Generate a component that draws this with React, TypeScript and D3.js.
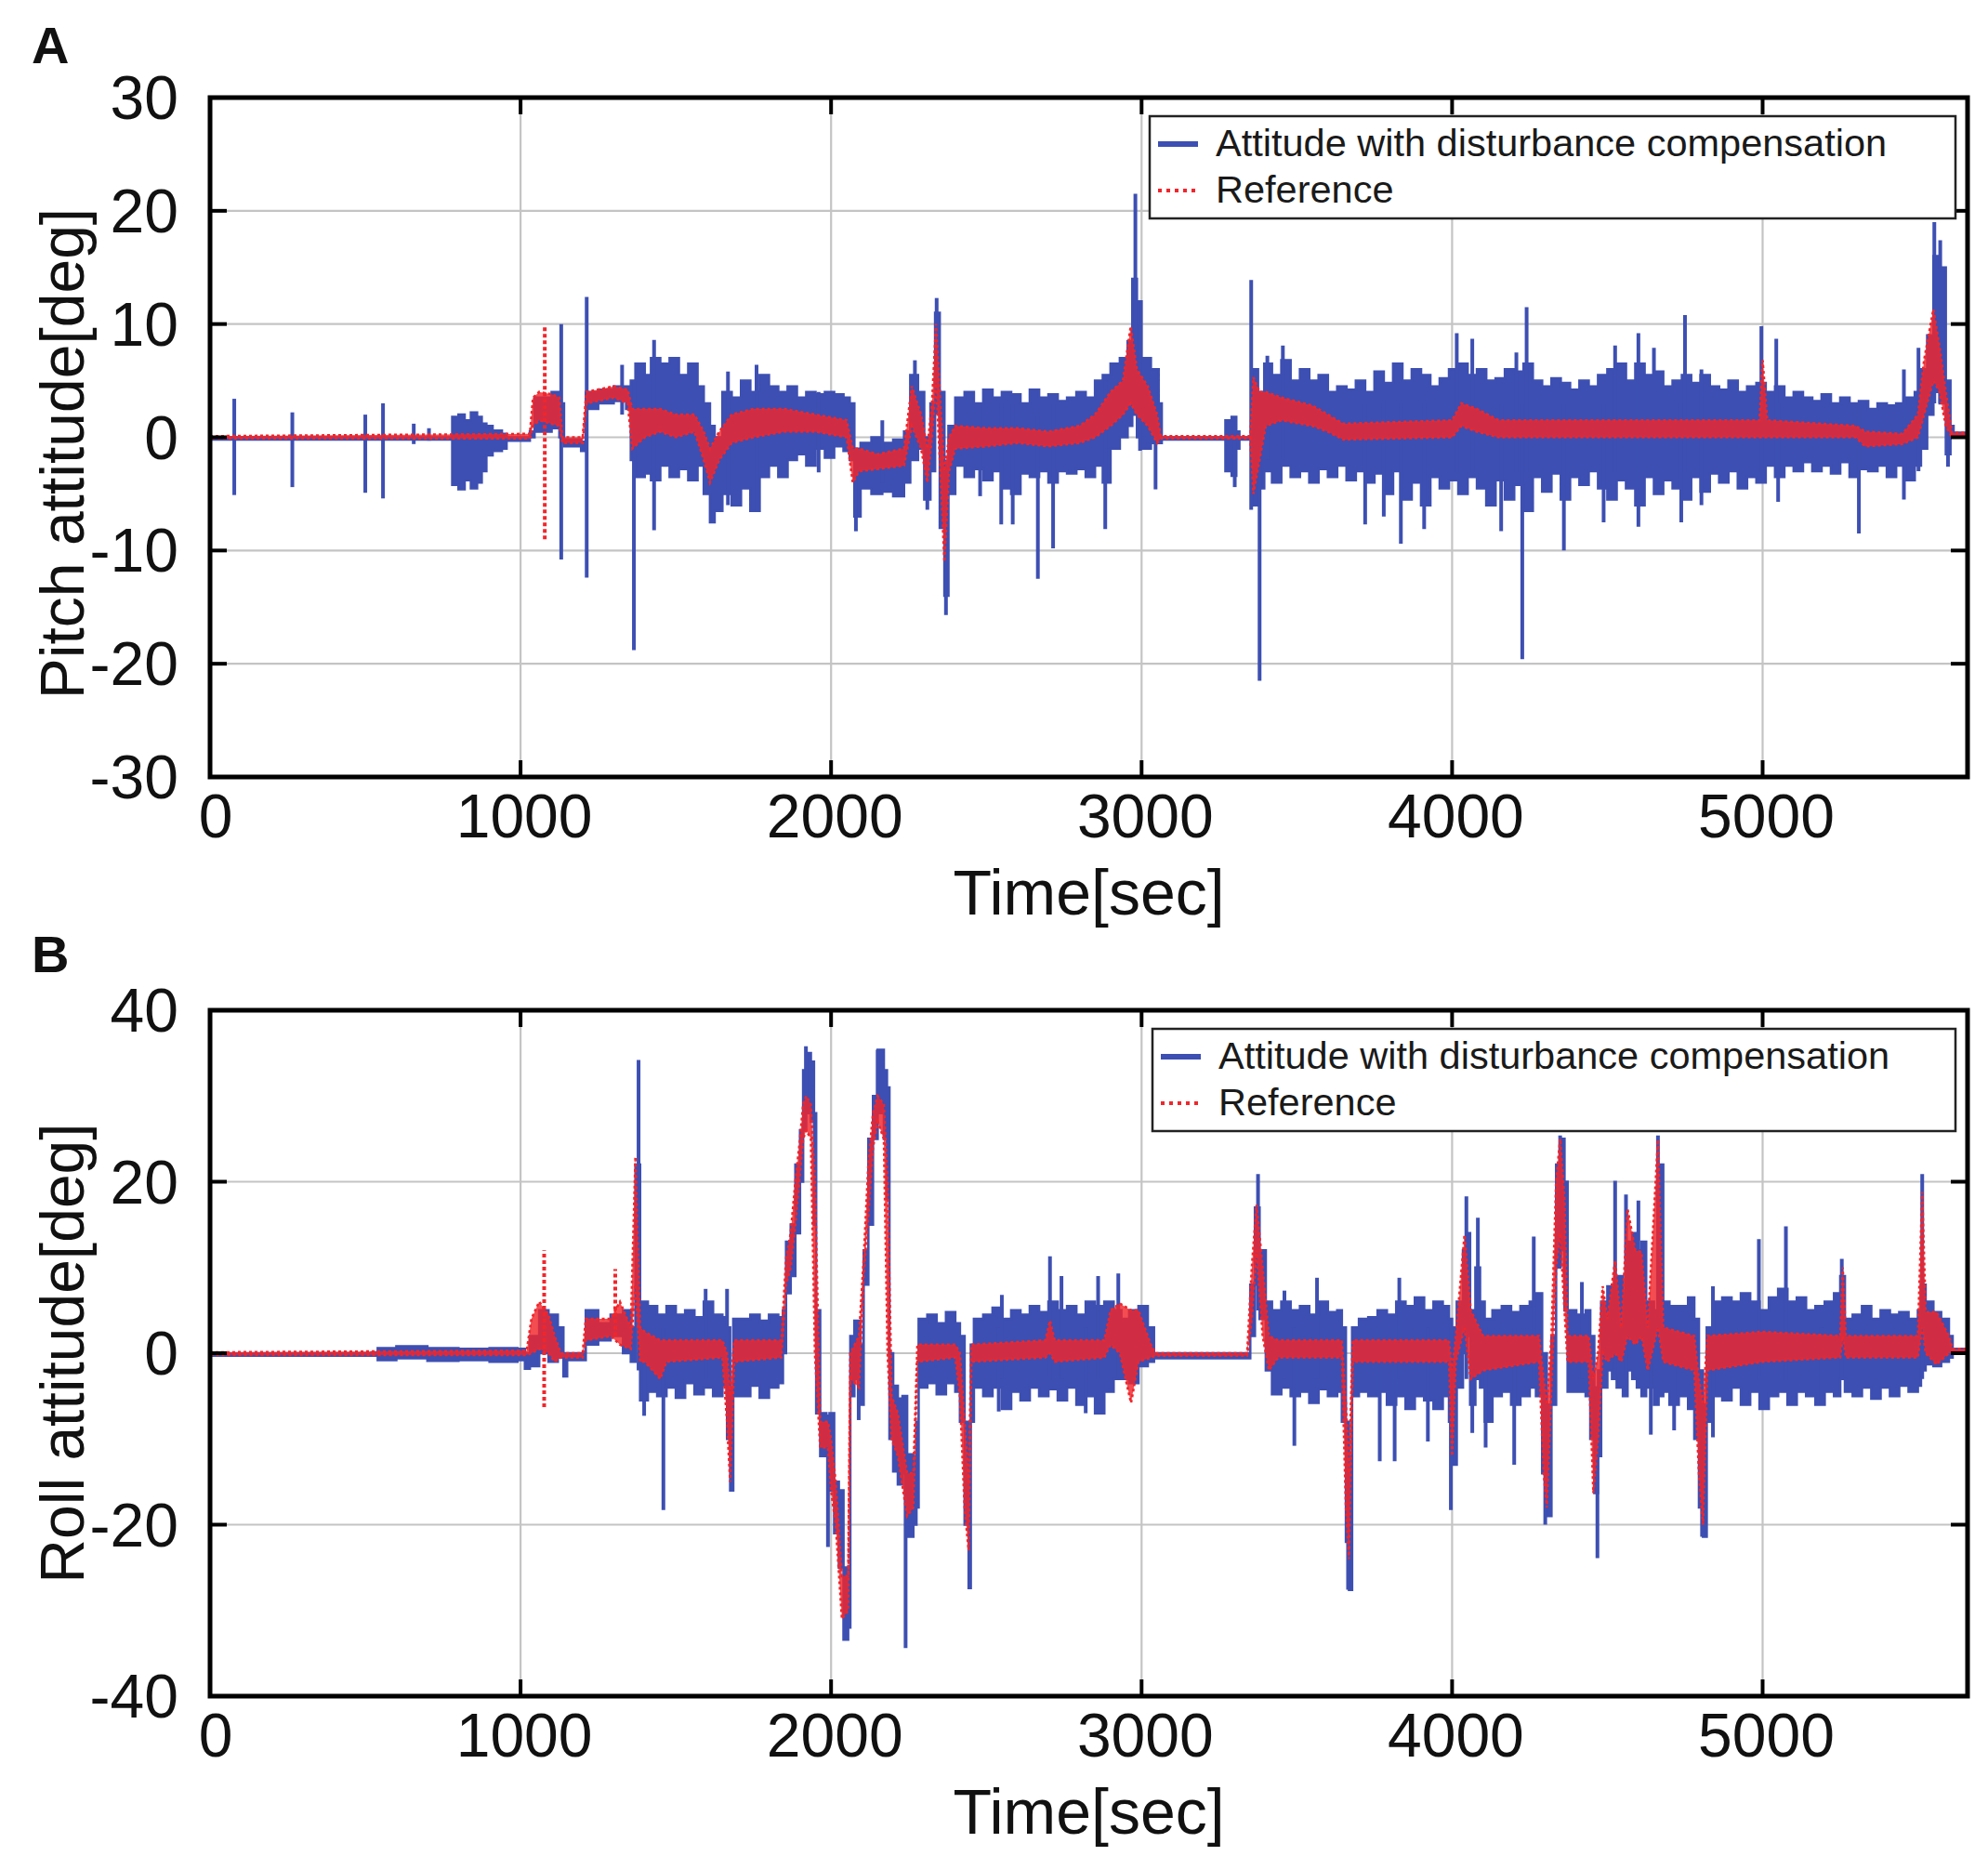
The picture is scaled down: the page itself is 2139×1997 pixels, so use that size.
import React from "react";
import * as d3 from "d3";

type Row = [number, number, number];

const xTicks = [0, 1000, 2000, 3000, 4000, 5000];
const pitchTicks = [-30, -20, -10, 0, 10, 20, 30];
const rollTicks = [-40, -20, 0, 20, 40];
const legendLabels = ["Attitude with disturbance compensation", "Reference"];
const xLabel = "Time[sec]";

// [time, low, high] envelope of the dense blue trace (pitch)
const pitchBlueBand: Row[] = [
  [0, -0.2, 0], [770, -0.2, 0], [780, -4.2, 1.8], [800, -4.6, 2.0], [820, -3.8, 1.5], [840, -4.5, 2.2],
  [860, -4.0, 1.8], [875, -3.0, 1.2], [890, -1.6, 1.0], [910, -1.2, 0.6], [940, -1.0, 0.3], [955, -0.3, 0],
  [1000, -0.3, 0], [1030, 0, 0.5], [1045, 0.5, 3.5], [1100, 0.8, 4], [1125, 0, 3], [1140, -0.8, -0.2],
  [1195, -1.2, -0.4], [1210, 2.5, 4.0], [1250, 3.0, 4.2], [1300, 3.2, 4.5], [1340, 2.5, 4.5], [1355, -2, 5],
  [1370, -3.5, 6.5], [1400, -3.2, 5.5], [1420, -3.8, 7], [1450, -2.5, 6.5], [1480, -3.5, 7], [1510, -2.8, 5.5],
  [1540, -3.8, 6.5], [1570, -2.5, 4.5], [1590, -5, 3], [1610, -7.5, 1], [1625, -6.5, 0], [1650, -5, 4],
  [1680, -6, 3.5], [1710, -4.5, 5], [1740, -6.5, 4], [1770, -3.5, 5.5], [1800, -2.5, 4.5], [1830, -3.5, 4],
  [1860, -2, 4.5], [1890, -1.5, 3.5], [1920, -2.5, 4], [1950, -1, 3.8], [1980, -1.8, 4], [2010, -0.8, 3.8],
  [2040, -1.2, 3.5], [2060, -2, 3], [2075, -7, -1], [2095, -4.5, -0.5], [2130, -5, 0], [2165, -4.8, -0.5],
  [2200, -5.2, -0.2], [2235, -4, 0.5], [2255, -2, 5.5], [2280, -1, 4], [2300, -5.5, 0], [2320, -3, 3],
  [2335, 3, 11], [2350, -8, 4], [2365, -14, -3], [2378, -5, 1], [2400, -2.5, 3.5], [2430, -3.5, 4],
  [2460, -2.8, 3], [2490, -3.8, 4.2], [2520, -3, 3.5], [2550, -4.5, 4], [2580, -5, 3.8], [2610, -3.2, 3],
  [2640, -3.5, 4.2], [2670, -3, 3.5], [2700, -4, 3.8], [2730, -3, 3.2], [2760, -3.2, 3.5], [2790, -2.8, 4],
  [2820, -3.5, 3.5], [2850, -2.5, 5], [2875, -4, 5.5], [2900, -1, 6.5], [2930, 0, 7], [2955, 1, 8.5],
  [2970, 2, 14], [2985, 0, 12], [3000, -1, 7], [3030, -0.5, 6], [3055, -0.5, 3], [3065, -0.2, 0],
  [3260, -0.2, 0], [3270, -3, 1.5], [3290, -3.4, 1.8], [3305, -1, 0.5], [3315, -0.2, 0], [3345, -0.2, 0],
  [3355, -6, 6], [3375, -4.5, 4], [3395, -3, 6.5], [3420, -4, 5.5], [3450, -2.5, 6.8], [3480, -3.5, 5],
  [3510, -3, 6], [3540, -4, 5], [3570, -2.8, 5.5], [3600, -3.5, 4], [3630, -2.5, 4.5], [3660, -3.8, 4.2],
  [3690, -3, 5], [3720, -4, 4], [3750, -3.2, 5.8], [3780, -5, 4.8], [3810, -3, 6.5], [3840, -5.5, 5],
  [3870, -4, 6], [3900, -6, 5.5], [3930, -3.5, 4.5], [3960, -4.5, 5.2], [3990, -3.8, 6], [4020, -5, 6.5],
  [4050, -3.5, 5.5], [4080, -4.5, 6], [4110, -6, 5], [4140, -3.8, 5.2], [4170, -5.5, 6], [4200, -4.2, 5.8],
  [4230, -6.5, 6.5], [4260, -3.5, 5], [4290, -4.8, 4.5], [4320, -3.2, 5.2], [4350, -5.5, 4.8], [4380, -3.5, 4.2],
  [4410, -4.2, 5], [4440, -3, 4.5], [4470, -4.5, 5.5], [4500, -5.5, 6], [4530, -3.8, 6.5], [4560, -4.5, 5],
  [4590, -6, 6.5], [4620, -3.5, 5.5], [4650, -5, 5.8], [4680, -3.8, 4.5], [4710, -4.5, 5], [4740, -5.5, 5.5],
  [4770, -3.5, 4.8], [4800, -4.8, 5.5], [4830, -3.2, 4.5], [4860, -4, 4.2], [4890, -3, 5], [4920, -4.5, 4],
  [4950, -3.5, 4.5], [4980, -4, 4.8], [5010, -2.5, 4], [5040, -3.5, 4.5], [5070, -2.5, 3.5], [5100, -3, 4],
  [5130, -2.2, 3.5], [5160, -3, 3.2], [5190, -2.5, 3.8], [5220, -3.2, 3], [5250, -2.2, 3.5], [5280, -3.5, 3],
  [5310, -2.8, 3.2], [5340, -3, 2.5], [5370, -2.5, 3], [5400, -3.5, 2.8], [5430, -2.5, 3], [5460, -3.8, 3.5],
  [5490, -2.5, 4], [5510, -1, 6], [5530, 2, 9], [5550, 4, 16], [5570, 3, 15], [5590, -1.5, 5],
  [5605, 0, 1], [5615, 0, 0.4], [5660, 0, 0.4],
];

// [time, low, high] isolated blue spikes (pitch)
const pitchBlueSpikes: Row[] = [
  [78, -5.1, 3.4], [265, -4.4, 2.2], [500, -4.9, 2], [557, -5.4, 3], [656, -0.6, 1.2], [705, -0.3, 0.8],
  [1131, -10.8, 10], [1213, -12.4, 12.4], [1327, 2, 6.4], [1365, -18.8, 5], [1430, -8.2, 8.6], [1668, -6, 5.8],
  [1760, -6.6, 6.4], [1960, -3.1, 4], [2080, -8.3, -1], [2165, -4, 1.5], [2270, -1, 6.8], [2310, -6.4, 0],
  [2340, 2, 12.3], [2370, -15.7, -2], [2480, -5.2, 3], [2548, -7.7, 3], [2585, -7.7, 3], [2666, -12.5, 2],
  [2715, -9.8, 3], [2883, -8.1, 5], [2980, 3, 21.5], [2995, -1.2, 10], [3045, -4.6, 2], [3300, -4.4, 1],
  [3353, -6.4, 13.9], [3380, -21.5, 3], [3405, -2, 7.2], [3455, -2, 8.1], [3720, -7.7, 3], [3780, -7, 3],
  [3835, -9.4, 3], [3910, -8.1, 3], [4015, -3, 9.2], [4065, -3, 8.7], [4158, -8.3, 3], [4207, -3, 7.5],
  [4226, -19.6, 3], [4240, -3, 11.5], [4360, -10, 3], [4488, -7.5, 3], [4525, -3, 8.1], [4600, -7.9, 9.2],
  [4650, -3, 7.9], [4738, -7.5, 3], [4750, -3, 10.8], [4803, -6, 6], [4996, -3, 9.8], [5044, -3, 8.7],
  [5050, -5.7, 3], [5310, -8.5, 3], [5455, -5.5, 6], [5502, -3, 7.9], [5553, 3, 19], [5572, 3, 17.4],
  [5597, -2.6, 4],
];

// [time, low, high] envelope of the red reference trace (pitch)
const pitchRedBand: Row[] = [
  [0, -0.1, 0.1], [1030, -0.1, 0.3], [1040, 1, 3.5], [1060, 1.5, 4], [1100, 1.2, 3.8], [1125, 1, 3.5],
  [1135, -0.5, 0], [1200, -0.5, 0], [1212, 3, 4], [1300, 3.5, 4.5], [1345, 3, 4.2], [1360, -1, 2.5],
  [1400, 0, 2.5], [1450, 0.5, 2.5], [1500, 0, 2], [1560, 0.5, 2], [1590, -2, 0.5], [1610, -4, -1],
  [1640, -2, 0.5], [1680, -0.5, 2], [1750, 0, 2.5], [1850, 0.5, 2.5], [1950, 0.5, 2], [2050, 0, 1.5],
  [2070, -4, -1], [2090, -3, -1], [2150, -2.8, -1.5], [2235, -2.5, -1], [2260, 1, 4.5], [2290, -1, 2],
  [2310, -4, -1], [2325, 0, 3], [2338, 5, 10], [2352, -3, 3], [2365, -11, -3], [2380, -3, 0],
  [2400, -1, 1], [2500, -0.8, 0.8], [2600, -0.5, 0.8], [2700, -0.8, 0.5], [2800, -0.5, 1], [2850, 0, 2],
  [2900, 1, 4], [2940, 2, 5], [2965, 3, 9.8], [2985, 2, 6], [3020, 1, 4.5], [3050, -0.5, 2],
  [3062, -0.1, 0.1], [3350, -0.1, 0.1], [3360, -5, 5.3], [3380, -2, 4], [3400, 1, 4], [3450, 1.5, 3.5],
  [3550, 1, 2.8], [3600, 0.5, 2], [3650, -0.2, 1.2], [4000, 0, 1.5], [4030, 1, 3], [4080, 0.5, 2.5],
  [4150, 0, 1.5], [4500, 0, 1.5], [4990, 0, 1.5], [5000, 0, 6.8], [5015, 0, 1.5], [5300, 0, 1],
  [5330, -0.8, 0.5], [5450, -0.6, 0.3], [5500, 0, 2], [5520, 2, 6.8], [5550, 5, 11.3], [5570, 4, 8],
  [5590, 1, 4], [5610, 0, 0.4], [5660, 0, 0.4],
];

const pitchRedSpikes: Row[] = [[1078, -9, 9.8]];

// [time, low, high] envelope of the dense blue trace (roll)
const rollBlueBand: Row[] = [
  [0, -0.3, 0], [520, -0.3, 0.1], [540, -0.8, 0.6], [600, -0.6, 0.8], [700, -0.9, 0.6], [800, -0.8, 0.5],
  [900, -1, 0.6], [990, -0.8, 0.5], [1014, -1.8, 0], [1030, -1.5, 2], [1060, 0, 5], [1090, -1, 4.5],
  [1120, -0.5, 3], [1138, -2.7, 0], [1150, -0.8, 0], [1200, -0.8, 0], [1210, 1, 5], [1250, 1.5, 3.5],
  [1290, 2, 4.5], [1330, 0, 5], [1355, -1, 3], [1370, 5, 22], [1385, -5.5, 6], [1410, -4.5, 5.5],
  [1440, -5, 4.5], [1470, -4, 5.5], [1500, -5.2, 4.5], [1530, -3.5, 5], [1560, -4.8, 4.2], [1590, -4, 6],
  [1620, -5, 4.5], [1650, -3.8, 4.2], [1665, -10, 3], [1675, -16, -4], [1685, -5, 4], [1710, -5, 4],
  [1740, -3.8, 4.5], [1770, -5.2, 3.8], [1800, -4, 4.5], [1830, -3.5, 4.2], [1845, 0, 5], [1855, 7, 13],
  [1870, 9, 15], [1885, 14, 22], [1900, 20, 26], [1910, 26, 33], [1920, 28, 35], [1935, 27, 34],
  [1945, 15, 28], [1952, -7, 5], [1965, -12, -7], [1985, -12, -7.3], [1995, -16, -7], [2010, -21, -15],
  [2025, -25, -16], [2040, -33.4, -25], [2055, -32, -25], [2062, -5, 2], [2075, -3, 3.8], [2095, -6, 1],
  [2105, 8, 12], [2120, 15, 25], [2135, 25, 30], [2150, 28, 35.4], [2170, 25, 33], [2180, 18, 31],
  [2188, -10, 0], [2200, -13.8, -3.8], [2215, -15.3, -5.3], [2230, -14, -5], [2245, -21.4, -11.8], [2265, -20, -12],
  [2275, -18, -8], [2282, -4, 4], [2310, -3.5, 4.5], [2340, -4.8, 3.5], [2370, -3.5, 4.8], [2400, -4.5, 3.5],
  [2415, -8, 2], [2430, -20, -8], [2443, -27.4, -15], [2450, -8, 1], [2460, -4, 4], [2490, -5, 4.5],
  [2520, -4, 5.3], [2550, -6.5, 4], [2580, -4.5, 5], [2610, -5.5, 4.5], [2640, -4, 5.5], [2670, -5, 4.8],
  [2700, -4.2, 6], [2730, -5.5, 5], [2760, -4, 5.5], [2790, -6, 4.5], [2820, -5, 6], [2850, -7, 5.5],
  [2880, -4.5, 6], [2910, -3, 5], [2935, -3, 4], [2960, -3.5, 5], [2990, -1.5, 5.5], [3020, -1, 3],
  [3040, -0.6, 0], [3338, -0.6, 0], [3350, 2, 8], [3365, 8, 17], [3380, 4, 12], [3400, -2, 6],
  [3420, -4.8, 5], [3450, -4, 6], [3480, -5, 5], [3510, -4.5, 5.5], [3540, -5.8, 4.5], [3570, -4.2, 6],
  [3600, -5, 4.8], [3630, -4.5, 5], [3645, -8, 3], [3658, -22, -8], [3668, -27.6, -12], [3678, -5, 3],
  [3700, -4.5, 4], [3730, -5, 4.2], [3760, -4.5, 5], [3790, -6, 4.5], [3820, -5, 6], [3850, -6.5, 5.5],
  [3880, -5, 6.5], [3910, -5.5, 5], [3940, -6.5, 6], [3970, -5, 5.5], [3990, -8, 4], [4000, -13, 3],
  [4015, -4, 6], [4035, 0, 12], [4048, 2, 14], [4058, -6, 5], [4075, -3, 10], [4090, -4, 6],
  [4105, -8, 4], [4130, -5, 5], [4160, -4.5, 5.5], [4190, -6, 4.8], [4220, -5, 5.5], [4250, -4, 6],
  [4270, -5, 7], [4290, -14, 0], [4305, -19, -6], [4320, -6, 2], [4335, 10, 22], [4348, 12, 25],
  [4362, 5, 20], [4372, -4.5, 5], [4400, -4.5, 4.5], [4430, -5, 5], [4445, -10, 2], [4458, -16.3, -4],
  [4470, -12, -2], [4480, -4, 6], [4500, -2, 7.8], [4515, -3, 8], [4530, -4, 9], [4550, -5, 7],
  [4565, -2, 13], [4580, -3, 14], [4595, -4, 12], [4610, -5, 13], [4625, -4, 6], [4650, -6, 5],
  [4665, -5, 22], [4680, -4.5, 6], [4700, -6, 5.5], [4730, -5, 5.5], [4760, -6.5, 6.5], [4780, -10, 4],
  [4795, -18, -2], [4808, -21.4, -6], [4820, -8, 3], [4840, -5, 6], [4870, -5.5, 6.5], [4900, -4, 6],
  [4930, -6, 7], [4960, -4.5, 6], [4990, -6.5, 5], [5020, -5, 6.5], [5050, -4.5, 7.5], [5080, -6, 6],
  [5110, -4.5, 6.5], [5140, -5, 5], [5170, -6, 5.5], [5200, -4.5, 6], [5230, -5, 7], [5250, -3, 9],
  [5265, -4.5, 4], [5290, -5, 4.5], [5320, -4, 5.5], [5350, -5.3, 4], [5380, -4, 5], [5410, -5, 4.5],
  [5440, -3.8, 4.8], [5470, -4.5, 4], [5500, -3.8, 5], [5510, -2, 8], [5525, -1.3, 6], [5550, -1.5, 4.8],
  [5575, -1, 4], [5600, -0.5, 2], [5612, 0, 0.5], [5660, 0, 0.5],
];

const rollBlueSpikes: Row[] = [
  [1380, -2, 34.2], [1398, -7.3, 3], [1460, -18.3, 3], [1596, -3, 7.5], [1665, -3, 7.5], [1919, 28, 35.8],
  [1990, -22.6, -8], [2089, -7.8, 2], [2150, 28, 35.4], [2240, -34.4, -12], [2540, -6.8, 3], [2550, -3, 6.8],
  [2705, -3, 11.3], [2742, -3, 9], [2820, -7, 3], [2860, -3, 9], [2925, -3, 9.3], [3375, 5, 20.9],
  [3460, -3, 7.3], [3492, -10.8, 3], [3565, -3, 8.8], [3665, -27.6, -10], [3767, -12.6, 3], [3815, -12.6, 3],
  [3830, -3, 8.8], [3922, -10.3, 3], [3996, -18.3, 3], [4046, -3, 18.3], [4065, -9.3, 3], [4083, -3, 15.8],
  [4108, -11, 3], [4200, -13, 3], [4263, -3, 13.6], [4300, -20, -5], [4348, 10, 25.4], [4418, -3, 8.3],
  [4468, -23.9, -4], [4525, -3, 20.1], [4560, -3, 18.5], [4600, -3, 17.8], [4640, -9.5, 3], [4663, -3, 25.4],
  [4715, -9, 3], [4805, -21.4, -5], [4840, -9.8, 7.8], [4988, -3, 13.3], [5075, -3, 14.8], [5188, -6, 3],
  [5255, -3, 11], [5514, -3, 20.9],
];

// [time, low, high] envelope of the red reference trace (roll)
const rollRedBand: Row[] = [
  [0, -0.2, 0.1], [1020, -0.2, 0.3], [1035, 0, 4], [1060, 0.5, 6], [1090, 0, 4.5], [1110, -1, 2],
  [1130, -0.5, 0], [1200, -0.5, 0], [1210, 1.5, 4], [1290, 2, 4], [1320, 1, 6], [1355, 0.5, 3],
  [1370, 8, 22.9], [1385, -1, 3], [1400, -1, 2.5], [1450, -3, 1.5], [1470, -1, 1.5], [1650, -0.5, 1.5],
  [1665, -8, 0], [1675, -15, -5], [1688, -1, 1.5], [1840, -0.5, 1.5], [1855, 8, 11], [1870, 10, 14],
  [1885, 15, 20], [1900, 21, 25], [1910, 25, 29], [1920, 26, 30], [1935, 25, 29], [1948, 0, 20],
  [1965, -11, -8], [1990, -11, -8], [2000, -16, -10], [2015, -20, -15], [2035, -31, -26], [2055, -30, -26],
  [2062, -3, 0], [2090, -4, 2], [2105, 9, 11], [2120, 16, 22], [2135, 24, 28], [2150, 27, 30],
  [2170, 25, 29], [2182, 0, 20], [2195, -10, -5], [2215, -12, -7], [2245, -19, -14], [2265, -18, -14],
  [2278, -1, 1], [2400, -0.5, 1], [2415, -5, 0], [2430, -18, -8], [2443, -23, -15], [2452, -1, 1],
  [2690, -0.5, 1.5], [2705, 0, 3.8], [2720, -1, 1.5], [2880, -0.5, 1.5], [2900, 1, 5], [2930, 0, 5.8],
  [2966, -5.8, 5], [2990, -1, 5], [3030, -0.5, 1], [3045, -0.3, 0], [3340, -0.3, 0], [3355, 4, 10],
  [3370, 12, 17.3], [3390, 2, 10], [3410, -2, 2], [3440, -0.5, 1.5], [3645, -0.5, 1.5], [3658, -18, -6],
  [3668, -24, -14], [3680, -1, 1.5], [3990, -1, 1.5], [4000, -12, -2], [4012, -1, 2], [4040, 3, 13.8],
  [4060, -3, 5], [4100, -2, 2], [4280, -1, 2], [4295, -14, -3], [4305, -18, -6], [4320, -4, 2],
  [4335, 10, 20], [4348, 14, 25], [4362, 5, 18], [4372, -1, 2], [4440, -1, 2], [4455, -16.3, -3],
  [4470, -10, 0], [4485, 0, 7.8], [4500, -1, 4], [4525, 0, 10.8], [4545, -1, 3], [4565, 2, 16.8],
  [4590, 1, 12], [4610, 2, 11.8], [4630, -2, 3], [4663, 3, 24.9], [4680, -1, 3], [4780, -2, 2],
  [4795, -14, -3], [4808, -20, -6], [4822, -2, 2], [5000, -1, 2.5], [5250, -0.5, 2], [5258, 2, 10],
  [5268, -0.5, 2], [5500, -0.5, 2], [5514, 3, 18.8], [5525, 0, 4.8], [5560, -1.3, 4.8], [5600, 0, 2],
  [5612, 0, 0.5], [5660, 0, 0.5],
];

const rollRedSpikes: Row[] = [[1076, -6.3, 12], [1305, 2, 9.8]];

const BLUE = "#3d4fb2";
const RED = "#f0262c";
const FONT = "'Liberation Sans', Arial, Helvetica, sans-serif";

type PanelProps = {
  id: string;
  letter: string;
  letterY: number;
  top: number;
  bottom: number;
  yDomain: [number, number];
  yTicks: number[];
  yLabel: string;
  yLabelCenter: number;
  legendTop: number;
  legendLeft: number;
  blueBand: Row[];
  blueSpikes: Row[];
  redBand: Row[];
  redSpikes: Row[];
};

const LEFT = 226;
const RIGHT = 2117;

function Panel(p: PanelProps) {
  const x = d3.scaleLinear().domain([0, 5660]).range([LEFT, RIGHT]);
  const y = d3.scaleLinear().domain(p.yDomain).range([p.bottom, p.top]);
  const blueArea = d3
    .area<Row>()
    .curve(d3.curveStepAfter)
    .x((d) => x(d[0]))
    .y0((d) => y(d[1]))
    .y1((d) => y(d[2]));
  const redArea = d3
    .area<Row>()
    .x((d) => x(d[0]))
    .y0((d) => y(d[1]))
    .y1((d) => y(d[2]));
  const tick = 18;
  const clipId = `clip-${p.id}`;
  const legendRight = 2104;
  const legendH = 110;
  return (
    <g>
      <defs>
        <clipPath id={clipId}>
          <rect x={LEFT} y={p.top} width={RIGHT - LEFT} height={p.bottom - p.top} />
        </clipPath>
      </defs>
      {xTicks.slice(1).map((t) => (
        <line key={`gx${t}`} x1={x(t)} x2={x(t)} y1={p.top} y2={p.bottom} stroke="#c4c4c4" strokeWidth={2.2} />
      ))}
      {p.yTicks.slice(1, -1).map((t) => (
        <line key={`gy${t}`} x1={LEFT} x2={RIGHT} y1={y(t)} y2={y(t)} stroke="#c4c4c4" strokeWidth={2.2} />
      ))}
      <g clipPath={`url(#${clipId})`}>
        <path d={blueArea(p.blueBand) || ""} fill={BLUE} stroke={BLUE} strokeWidth={2.6} strokeLinejoin="miter" />
        {p.blueSpikes.map((s, i) => (
          <line key={`bs${i}`} x1={x(s[0])} x2={x(s[0])} y1={y(s[1])} y2={y(s[2])} stroke={BLUE} strokeWidth={4} />
        ))}
        <path
          d={redArea(p.redBand) || ""}
          fill={RED}
          fillOpacity={0.82}
          stroke={RED}
          strokeWidth={2.6}
          strokeDasharray="3 3"
        />
        {p.redSpikes.map((s, i) => (
          <line
            key={`rs${i}`}
            x1={x(s[0])}
            x2={x(s[0])}
            y1={y(s[1])}
            y2={y(s[2])}
            stroke={RED}
            strokeWidth={4}
            strokeDasharray="4 3"
          />
        ))}
      </g>
      {xTicks.slice(1).map((t) => (
        <g key={`tx${t}`}>
          <line x1={x(t)} x2={x(t)} y1={p.bottom} y2={p.bottom - tick} stroke="#000" strokeWidth={4} />
          <line x1={x(t)} x2={x(t)} y1={p.top} y2={p.top + tick} stroke="#000" strokeWidth={4} />
        </g>
      ))}
      {p.yTicks.slice(1, -1).map((t) => (
        <g key={`ty${t}`}>
          <line x1={LEFT} x2={LEFT + tick} y1={y(t)} y2={y(t)} stroke="#000" strokeWidth={4} />
          <line x1={RIGHT} x2={RIGHT - tick} y1={y(t)} y2={y(t)} stroke="#000" strokeWidth={4} />
        </g>
      ))}
      <rect x={LEFT} y={p.top} width={RIGHT - LEFT} height={p.bottom - p.top} fill="none" stroke="#000" strokeWidth={5} />
      {xTicks.map((t) => (
        <text key={`lx${t}`} x={x(t) + (t === 0 ? 6 : 4)} y={p.bottom + 65} textAnchor="middle" fontSize={66} fontFamily={FONT} fill="#111">
          {t}
        </text>
      ))}
      {p.yTicks.map((t) => (
        <text key={`ly${t}`} x={192} y={y(t) + 23} textAnchor="end" fontSize={66} fontFamily={FONT} fill="#111">
          {t}
        </text>
      ))}
      <text x={(LEFT + RIGHT) / 2} y={p.bottom + 148} textAnchor="middle" fontSize={68} fontFamily={FONT} fill="#111">
        {xLabel}
      </text>
      <text
        transform={`translate(90, ${p.yLabelCenter}) rotate(-90)`}
        textAnchor="middle"
        fontSize={66}
        fontFamily={FONT}
        fill="#111"
      >
        {p.yLabel}
      </text>
      <text x={34} y={p.letterY} fontSize={56} fontWeight="bold" fontFamily={FONT} fill="#111">
        {p.letter}
      </text>
      <rect
        x={p.legendLeft}
        y={p.legendTop}
        width={legendRight - p.legendLeft}
        height={legendH}
        fill="#fff"
        stroke="#222"
        strokeWidth={2.5}
      />
      <line x1={p.legendLeft + 9} x2={p.legendLeft + 52} y1={p.legendTop + 30} y2={p.legendTop + 30} stroke={BLUE} strokeWidth={6} />
      <line
        x1={p.legendLeft + 9}
        x2={p.legendLeft + 52}
        y1={p.legendTop + 80}
        y2={p.legendTop + 80}
        stroke={RED}
        strokeWidth={4}
        strokeDasharray="4 5"
      />
      <text x={p.legendLeft + 71} y={p.legendTop + 43} fontSize={41.5} fontFamily={FONT} fill="#1a1a1a">
        {legendLabels[0]}
      </text>
      <text x={p.legendLeft + 71} y={p.legendTop + 93} fontSize={41.5} fontFamily={FONT} fill="#1a1a1a">
        {legendLabels[1]}
      </text>
    </g>
  );
}

export default function App() {
  return (
    <svg
      width={2139}
      height={1997}
      viewBox="0 0 2139 1997"
      style={{ position: "absolute", left: 0, top: 0, display: "block", background: "#fff" }}
    >
      <rect x={0} y={0} width={2139} height={1997} fill="#fff" />
      <Panel
        id="a"
        letter="A"
        letterY={68}
        top={105}
        bottom={836}
        yDomain={[-30, 30]}
        yTicks={pitchTicks}
        yLabel="Pitch attitude[deg]"
        yLabelCenter={488}
        legendTop={125}
        legendLeft={1237}
        blueBand={pitchBlueBand}
        blueSpikes={pitchBlueSpikes}
        redBand={pitchRedBand}
        redSpikes={pitchRedSpikes}
      />
      <Panel
        id="b"
        letter="B"
        letterY={1046}
        top={1087}
        bottom={1825}
        yDomain={[-40, 40]}
        yTicks={rollTicks}
        yLabel="Roll attitude[deg]"
        yLabelCenter={1456}
        legendTop={1107}
        legendLeft={1240}
        blueBand={rollBlueBand}
        blueSpikes={rollBlueSpikes}
        redBand={rollRedBand}
        redSpikes={rollRedSpikes}
      />
    </svg>
  );
}
